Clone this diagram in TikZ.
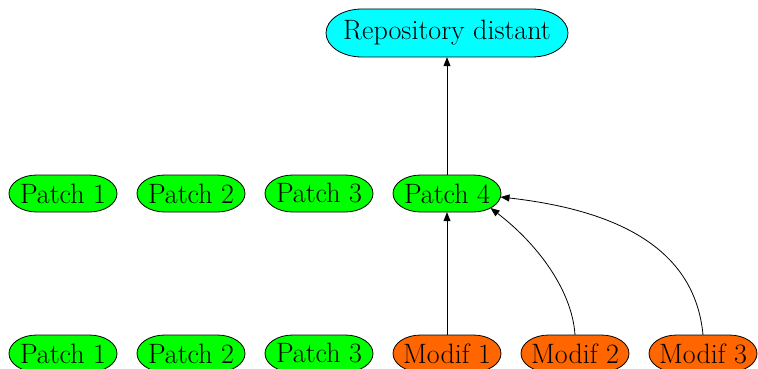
\documentclass[tikz,border=0pt]{standalone}
\usetikzlibrary{arrows.meta,calc}
\definecolor{cyanfill}{RGB}{0,255,255}
\definecolor{greenfill}{RGB}{0,255,0}
\definecolor{orangefill}{RGB}{255,102,0}
\tikzset{
  pill/.style={draw=none, minimum width=108pt, minimum height=37pt, inner sep=0pt,
    font=\fontsize{28}{32}\selectfont},
  reponode/.style={pill, minimum width=242pt, minimum height=48pt},
  outline/.style={draw=black, line width=0.8pt},
  link/.style={draw=black, line width=0.8pt, -{Triangle[length=9pt,width=7pt]}}
}
% #1 x, #2 y, #3 half width, #4 half height, #5 fill colour
\newcommand{\pillshape}[5]{%
  \path[outline, fill=#5, shift={(#1,#2)}]
    ({#3},0) .. controls ({#3},{0.552*#4}) and ({#3-0.672*#4},{#4}) .. ({#3-1.5*#4},{#4})
    -- ({-#3+1.5*#4},{#4}) .. controls ({-#3+0.672*#4},{#4}) and ({-#3},{0.552*#4}) .. ({-#3},0)
    .. controls ({-#3},{-0.552*#4}) and ({-#3+0.672*#4},{-#4}) .. ({-#3+1.5*#4},{-#4})
    -- ({#3-1.5*#4},{-#4}) .. controls ({#3-0.672*#4},{-#4}) and ({#3},{-0.552*#4}) .. cycle;}
\begin{document}
\begin{tikzpicture}[x=1pt,y=-1pt]
\useasboundingbox (0,0) rectangle (758,369);
\pillshape{447}{33}{121}{24}{cyanfill}
\pillshape{63}{193.5}{54}{18.5}{greenfill}
\pillshape{191}{193.5}{54}{18.5}{greenfill}
\pillshape{319}{193.5}{54}{18.5}{greenfill}
\pillshape{447}{193.5}{54}{18.5}{greenfill}
\pillshape{63}{353.5}{54}{18.5}{greenfill}
\pillshape{191}{353.5}{54}{18.5}{greenfill}
\pillshape{319}{353.5}{54}{18.5}{greenfill}
\pillshape{447}{353.5}{54}{18.5}{orangefill}
\pillshape{575}{353.5}{54}{18.5}{orangefill}
\pillshape{703}{353.5}{54}{18.5}{orangefill}
\node[reponode] (rep) at (447,33) {Repository distant};
\node[pill] (a1) at (63,193.5) {Patch 1};
\node[pill] (a2) at (191,193.5) {Patch 2};
\node[pill] (a3) at (319,193.5) {Patch 3};
\node[pill] (p4) at (447,193.5) {Patch 4};
\node[pill] (b1) at (63,353.5) {Patch 1};
\node[pill] (b2) at (191,353.5) {Patch 2};
\node[pill] (b3) at (319,353.5) {Patch 3};
\node[pill] (m1) at (447,353.5) {Modif 1};
\node[pill] (m2) at (575,353.5) {Modif 2};
\node[pill] (m3) at (703,353.5) {Modif 3};
\draw[link] (p4.north) -- (rep.south);
\draw[link] (m1.north) -- (p4.south);
\draw[link] (m2.north) .. controls ($(m2.north)+(-3,-45)$) and ($(p4.center)+(90,50)$) .. ($(p4.center)+(43.5,14.5)$);
\draw[link] (m3.north) .. controls ($(m3.north)+(-8,-85)$) and ($(p4.center)+(173,17)$) .. ($(p4.center)+(53.5,3.5)$);
\end{tikzpicture}
\end{document}
